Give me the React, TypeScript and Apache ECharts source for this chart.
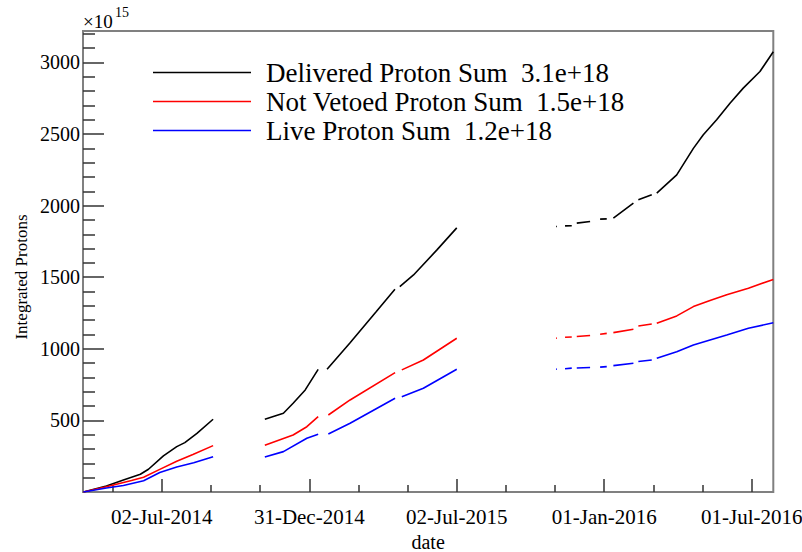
import React, { useEffect, useRef } from "react";
import * as echarts from "echarts";

// x values are days counted from 01-Jan-2014; y values are in units of 1e15 protons
const deliveredDays = [
  85.5, 114, 135, 156, 166, 184.5, 201, 211, 226, 246,
  278,
  310, 333, 345, 360, 376,
  382,
  387, 415, 448, 471,
  474,
  477, 494, 523, 547.5,
  610,
  670.5, 671.5, 676, 681.5, 689.8, 693, 696, 712.5, 719, 724.9, 733.1, 737, 741.3, 766.1, 769, 772.2, 788.8, 792,
  795, 819.7, 840.3, 852.6, 869.1, 885.6, 902, 922.7, 939.2,
];
const deliveredValues = [
  0, 42, 84, 124, 159, 252, 317, 345, 410, 508,
  null,
  508, 550, 620, 713, 857,
  null,
  857, 1039, 1260, 1416,
  null,
  1435, 1516, 1691, 1845,
  null,
  1854, 1855, null, 1859, 1860, null, 1878, 1889, null, 1906, 1908, null, 1913, 2017, null, 2041, 2076, null,
  2087, 2215, 2400, 2495, 2600, 2716, 2821, 2937, 3075,
];

const notVetoedDays = [
  85.5, 114, 145, 160, 180, 201, 221, 246,
  278,
  310, 345, 362, 376,
  382,
  388.6, 415.5, 471.2,
  475,
  479.5, 506.2, 547.5,
  610,
  670.5, 671.5, 676, 681.5, 689.8, 693, 696, 712.5, 719, 724.9, 733.1, 737, 741.3, 766.1, 769, 772.2, 788.8, 792,
  795, 819.7, 840.3, 860.9, 881.6, 908.4, 939.2,
];
const notVetoedValues = [
  0, 37, 80, 103, 158, 215, 262, 324,
  null,
  326, 398, 456, 526,
  null,
  538, 643, 834,
  null,
  853, 922, 1074,
  null,
  1074, 1075, null, 1081, 1083, null, 1086, 1093, null, 1102, 1108, null, 1113, 1137, null, 1160, 1174, null,
  1179, 1230, 1295, 1337, 1377, 1423, 1485,
];

const liveDays = [
  85.5, 114, 135, 160, 180, 201, 222, 246,
  278,
  310, 333, 362, 376,
  382,
  388.6, 415.5, 471.2,
  475,
  479.5, 506.2, 547.5,
  610,
  670.5, 671.5, 676, 681.5, 689.8, 693, 696, 712.5, 719, 724.9, 733.1, 737, 741.3, 766.1, 769, 772.2, 788.8, 792,
  795, 819.7, 840.3, 860.9, 881.6, 908.4, 939.2,
];
const liveValues = [
  0, 28, 45, 78, 136, 175, 204, 247,
  null,
  245, 282, 375, 403,
  null,
  405, 480, 655,
  null,
  666, 725, 857,
  null,
  857, 858, null, 861, 865, null, 866, 870, null, 872, 876, null, 883, 899, null, 911, 922, null,
  934, 980, 1027, 1062, 1097, 1144, 1182,
];

const seriesNames = [
  "Delivered Proton Sum  3.1e+18",
  "Not Vetoed Proton Sum  1.5e+18",
  "Live Proton Sum  1.2e+18",
];
const seriesColors = ["#000000", "#ff0000", "#0000ff"];

const xMajorTickDays = [182.5, 365, 547.5, 730, 912.5];
const xMajorTickLabels = ["02-Jul-2014", "31-Dec-2014", "02-Jul-2015", "01-Jan-2016", "01-Jul-2016"];
const xMinorTickDays = [121.67, 243.33, 304.17, 425.83, 486.67, 608.33, 669.17, 790.83, 851.67];
const yMajorTicks = [500, 1000, 1500, 2000, 2500, 3000];
const yMinorTicks = [
  100, 200, 300, 400, 600, 700, 800, 900, 1100, 1200, 1300, 1400, 1600, 1700, 1800, 1900,
  2100, 2200, 2300, 2400, 2600, 2700, 2800, 2900, 3100, 3200,
];

const X_MIN = 85;
const X_MAX = 939.2;
const Y_MIN = 0;
const Y_MAX = 3220;

const FONT = "Liberation Serif";

function pairs(days: number[], values: (number | null)[]) {
  return days.map((d, i) => [d, values[i] === null ? "-" : values[i]]);
}

export default function App() {
  const ref = useRef<HTMLDivElement>(null);

  useEffect(() => {
    if (!ref.current) return;
    const chart = echarts.init(ref.current, undefined, { renderer: "svg" });
    const dataSets = [
      pairs(deliveredDays, deliveredValues),
      pairs(notVetoedDays, notVetoedValues),
      pairs(liveDays, liveValues),
    ];
    const tickColor = "#333";
    chart.setOption({
      animation: false,
      backgroundColor: "#ffffff",
      textStyle: { fontFamily: FONT },
      grid: {
        left: 83,
        right: 28.7,
        top: 31,
        bottom: 60,
        show: true,
        borderColor: "#808080",
        borderWidth: 2,
        containLabel: false,
        outerBoundsMode: "none",
      },
      legend: {
        orient: "vertical",
        left: 148,
        top: 54,
        icon: "rect",
        itemWidth: 98,
        itemHeight: 1.6,
        itemGap: 2,
        data: seriesNames,
        textStyle: {
          fontFamily: FONT,
          fontSize: 27,
          color: "#000",
          padding: [0, 0, 0, 10],
        },
      },
      xAxis: [
        {
          type: "value",
          min: X_MIN,
          max: X_MAX,
          position: "bottom",
          axisLine: { show: false },
          splitLine: { show: false },
          axisTick: {
            show: true,
            inside: true,
            length: 13,
            customValues: xMajorTickDays,
            lineStyle: { color: tickColor, width: 1.5 },
          },
          axisLabel: {
            customValues: xMajorTickDays,
            margin: 14,
            fontFamily: FONT,
            fontSize: 21,
            color: "#000",
            formatter: (v: number) => {
              const i = xMajorTickDays.findIndex((d) => Math.abs(d - v) < 0.01);
              return i >= 0 ? xMajorTickLabels[i] : "";
            },
          },
          name: "date",
          nameLocation: "middle",
          nameGap: 33,
          nameTextStyle: { fontFamily: FONT, fontSize: 20, color: "#000" },
        },
        {
          type: "value",
          min: X_MIN,
          max: X_MAX,
          position: "bottom",
          axisLine: { show: false },
          splitLine: { show: false },
          axisTick: {
            show: true,
            inside: true,
            length: 7,
            customValues: xMinorTickDays,
            lineStyle: { color: tickColor, width: 1.5 },
          },
          axisLabel: { show: false },
        },
      ],
      yAxis: [
        {
          type: "value",
          min: Y_MIN,
          max: Y_MAX,
          position: "left",
          axisLine: { show: false },
          splitLine: { show: false },
          axisTick: {
            show: true,
            inside: true,
            length: 21,
            customValues: yMajorTicks,
            lineStyle: { color: tickColor, width: 1.5 },
          },
          axisLabel: {
            customValues: yMajorTicks,
            margin: 3,
            fontFamily: FONT,
            fontSize: 20,
            color: "#000",
            formatter: (v: number) => String(v),
          },
        },
        {
          type: "value",
          min: Y_MIN,
          max: Y_MAX,
          position: "left",
          axisLine: { show: false },
          splitLine: { show: false },
          axisTick: {
            show: true,
            inside: true,
            length: 12,
            customValues: yMinorTicks,
            lineStyle: { color: tickColor, width: 1.5 },
          },
          axisLabel: { show: false },
        },
      ],
      graphic: [
        {
          type: "text",
          x: 21,
          y: 277,
          rotation: Math.PI / 2,
          style: {
            text: "Integrated Protons",
            fontFamily: FONT,
            fontSize: 17,
            fill: "#000",
            align: "center",
            verticalAlign: "middle",
          },
        },
        {
          type: "text",
          x: 83,
          y: 21,
          style: {
            text: "×10",
            fontFamily: FONT,
            fontSize: 19,
            fill: "#000",
            align: "left",
            verticalAlign: "middle",
          },
        },
        {
          type: "text",
          x: 115,
          y: 12,
          style: {
            text: "15",
            fontFamily: FONT,
            fontSize: 14,
            fill: "#000",
            align: "left",
            verticalAlign: "middle",
          },
        },
      ],
      series: dataSets.map((data, i) => ({
        name: seriesNames[i],
        type: "line",
        xAxisIndex: 0,
        yAxisIndex: 0,
        data,
        showSymbol: false,
        symbol: "none",
        connectNulls: false,
        lineStyle: { color: seriesColors[i], width: 1.6 },
        itemStyle: { color: seriesColors[i] },
      })),
    });
    return () => chart.dispose();
  }, []);

  return (
    <div
      ref={ref}
      style={{ position: "fixed", left: 0, top: 0, width: 802, height: 552, background: "#fff" }}
    />
  );
}
